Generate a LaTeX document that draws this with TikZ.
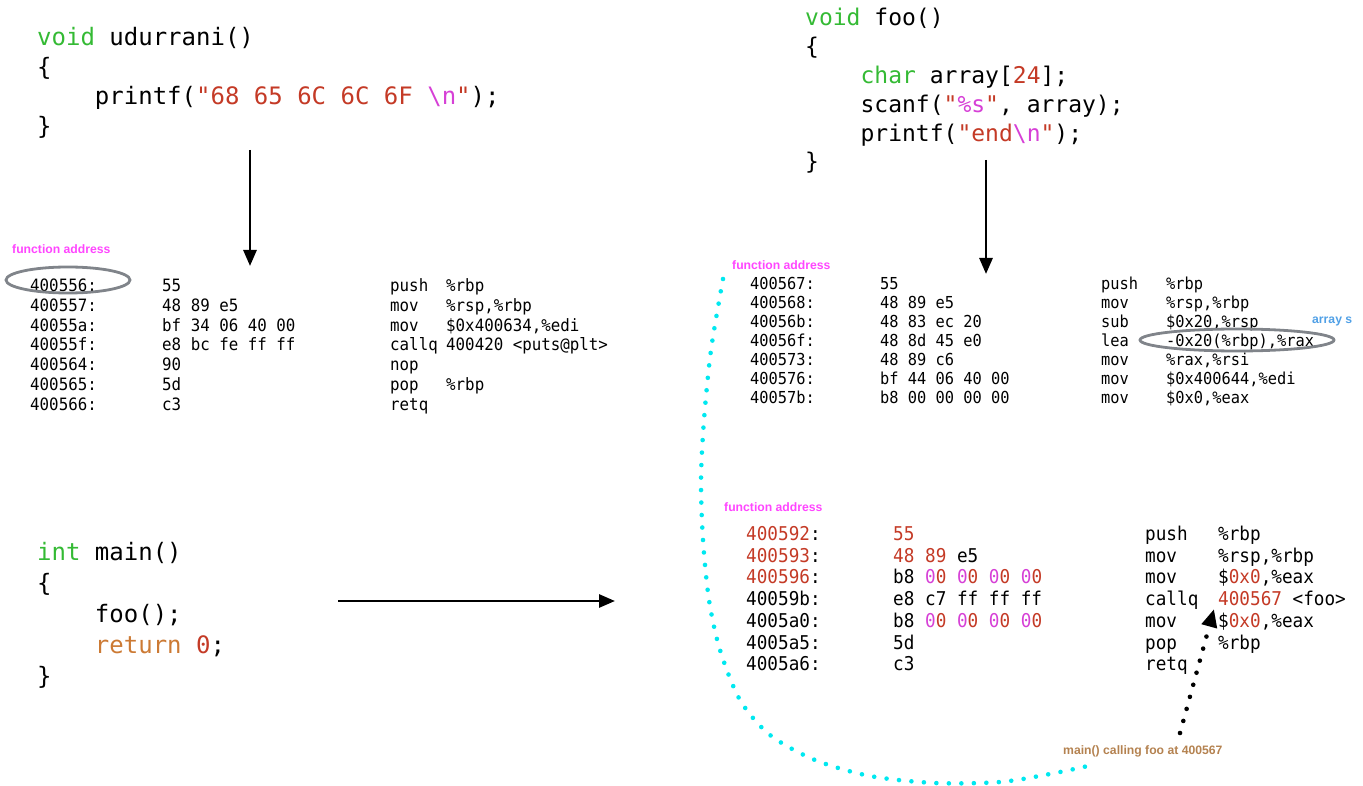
\documentclass[tikz,border=0pt]{standalone}
\usepackage{fontspec}
\usepackage{xcolor}
\usepackage{tikz}
\usetikzlibrary{arrows.meta}

\newfontfamily\codefont{DejaVu Sans Mono}
\newfontfamily\asmfont{DejaVu Sans Mono}[FakeStretch=0.93]
\newfontfamily\notefont{Liberation Sans}

\definecolor{kwgreen}{RGB}{52,186,52}
\definecolor{strred}{RGB}{196,58,38}
\definecolor{escmag}{RGB}{214,64,214}
\definecolor{retbrown}{RGB}{204,122,52}
\definecolor{notemag}{RGB}{255,70,255}
\definecolor{noteblue}{RGB}{80,160,230}
\definecolor{notebrown}{RGB}{180,130,80}
\definecolor{dotcyan}{RGB}{0,232,240}
\definecolor{ringgray}{RGB}{128,132,138}

% syntax colours
\newcommand{\ckw}[1]{\textcolor{kwgreen}{#1}}
\newcommand{\cstr}[1]{\textcolor{strred}{#1}}
\newcommand{\cesc}[1]{\textcolor{escmag}{#1}}
\newcommand{\cret}[1]{\textcolor{retbrown}{#1}}
\newcommand{\zz}{\textcolor{escmag}{0}\textcolor{strred}{0}}
\newcommand{\tabi}{\phantom{xxxx}}

\begin{document}
\begin{tikzpicture}[x=1pt,y=-1pt,
	code/.style={inner sep=0pt, anchor=base west},
	asm/.style={inner sep=0pt, anchor=base west},
	note/.style={inner sep=0pt, anchor=base west, font=\notefont\bfseries\fontsize{12.2}{14}\selectfont},
	flow/.style={line width=2.8pt, -{Triangle[width=13pt,length=16pt]}},
	ring/.style={draw=ringgray, line width=2.8pt},
	cyandots/.style={dotcyan, line width=4.6pt, line cap=round, dash pattern=on 0pt off 12.5pt},
	calldots/.style={black, line width=4.6pt, line cap=round, dash pattern=on 0pt off 12.5pt,
		-{Triangle[width=15pt,length=18pt]}}]
	\useasboundingbox (0,0) rectangle (1363,786);

	%% C sources
	\node[code, font=\codefont\fontsize{24}{29.5}\selectfont] (udsrc) at (37,46)
		{\begin{tabular}[t]{@{}l@{}}
			\ckw{void} udurrani()\\
			\{\\
			\tabi printf(\cstr{"68 65 6C 6C 6F }\cesc{\textbackslash n}\cstr{"});\\
			\}
		\end{tabular}};
	\node[code, font=\codefont\fontsize{23}{28.8}\selectfont] (foosrc) at (805,26)
		{\begin{tabular}[t]{@{}l@{}}
			\ckw{void} foo()\\
			\{\\
			\tabi\ckw{char} array[\cstr{24}];\\
			\tabi scanf(\cstr{"}\cesc{\%s}\cstr{"}, array);\\
			\tabi printf(\cstr{"end}\cesc{\textbackslash n}\cstr{"});\\
			\}
		\end{tabular}};
	\node[code, font=\codefont\fontsize{24}{31}\selectfont] (mainsrc) at (37,560)
		{\begin{tabular}[t]{@{}l@{}}
			\ckw{int} main()\\
			\{\\
			\tabi foo();\\
			\tabi\cret{return} \cstr{0};\\
			\}
		\end{tabular}};

	%% disassembly of udurrani()
	\foreach \ad/\by/\mn/\op [count=\i from 0] in {400556:/55/push/\%rbp,
		400557:/48 89 e5/mov/{\%rsp,\%rbp}, 40055a:/bf 34 06 40 00/mov/{\$0x400634,\%edi},
		40055f:/e8 bc fe ff ff/callq/400420 <puts@plt>, 400564:/90/nop/{},
		400565:/5d/pop/\%rbp, 400566:/c3/retq/{}}{
		\node[asm, font=\asmfont\fontsize{17}{20}\selectfont] (ua\i) at (30, 291.5+19.8*\i) {\ad};
		\node[asm, font=\asmfont\fontsize{17}{20}\selectfont] (ub\i) at (162, 291.5+19.8*\i) {\by};
		\node[asm, font=\asmfont\fontsize{17}{20}\selectfont] (um\i) at (390, 291.5+19.8*\i) {\mn};
		\node[asm, font=\asmfont\fontsize{17}{20}\selectfont] (uo\i) at (446, 291.5+19.8*\i) {\op};
	}

	%% disassembly of foo()
	\foreach \ad/\by/\mn/\op [count=\i from 0] in {400567:/55/push/\%rbp,
		400568:/48 89 e5/mov/{\%rsp,\%rbp}, 40056b:/48 83 ec 20/sub/{\$0x20,\%rsp},
		40056f:/48 8d 45 e0/lea/{-0x20(\%rbp),\%rax}, 400573:/48 89 c6/mov/{\%rax,\%rsi},
		400576:/bf 44 06 40 00/mov/{\$0x400644,\%edi}, 40057b:/b8 00 00 00 00/mov/{\$0x0,\%eax}}{
		\node[asm, font=\asmfont\fontsize{16.5}{20}\selectfont] (fa\i) at (750, 289.5+19*\i) {\ad};
		\node[asm, font=\asmfont\fontsize{16.5}{20}\selectfont] (fb\i) at (880, 289.5+19*\i) {\by};
		\node[asm, font=\asmfont\fontsize{16.5}{20}\selectfont] (fm\i) at (1101, 289.5+19*\i) {\mn};
		\node[asm, font=\asmfont\fontsize{16.5}{20}\selectfont] (fo\i) at (1166, 289.5+19*\i) {\op};
	}

	%% disassembly of main()
	\foreach \ad/\by/\mn/\op [count=\i from 0] in {{\cstr{400592}:}/\cstr{55}/push/\%rbp,
		{\cstr{400593}:}/{\cstr{48 89} e5}/mov/{\%rsp,\%rbp},
		{\cstr{400596}:}/{b8 \zz\ \zz\ \zz\ \zz}/mov/{\$\cstr{0x0},\%eax},
		40059b:/e8 c7 ff ff ff/callq/{\cstr{400567} <foo>},
		4005a0:/{b8 \zz\ \zz\ \zz\ \zz}/mov/{\$\cstr{0x0},\%eax},
		4005a5:/5d/pop/\%rbp, 4005a6:/c3/retq/{}}{
		\node[asm, font=\asmfont\fontsize{19}{22}\selectfont] (ma\i) at (746, 540.5+21.7*\i) {\ad};
		\node[asm, font=\asmfont\fontsize{19}{22}\selectfont] (mb\i) at (893, 540.5+21.7*\i) {\by};
		\node[asm, font=\asmfont\fontsize{19}{22}\selectfont] (mm\i) at (1145, 540.5+21.7*\i) {\mn};
		\node[asm, font=\asmfont\fontsize{19}{22}\selectfont] (mo\i) at (1218, 540.5+21.7*\i) {\op};
	}

	%% notes
	\node[note, notemag] (fnote1) at (12,253.5) {function address};
	\node[note, notemag] (fnote2) at (732,269.5) {function address};
	\node[note, notemag] (fnote3) at (724,511.5) {function address};
	\node[note, noteblue] (arrnote) at (1312,323.5) {array s};
	\node[note, notebrown] (callnote) at (1063,754.5) {main() calling foo at 400567};

	%% rings
	\draw[ring] (68,280) ellipse [x radius=62, y radius=13];
	\draw[ring] (1237,340) ellipse [x radius=97, y radius=11];

	%% flow arrows
	\coordinate (ud1) at (250,150);
	\coordinate (ud2) at (250,266);
	\coordinate (foo1) at (986,160);
	\coordinate (foo2) at (986,274);
	\coordinate (mn1) at (338,601);
	\coordinate (mn2) at (615,601);
	\draw[flow] (ud1)--(ud2);
	\draw[flow] (foo1)--(foo2);
	\draw[flow] (mn1)--(mn2);

	%% dotted links
	\coordinate (cyA) at (723,279);
	\coordinate (cyB) at (1088,766);
	\draw[cyandots] plot[smooth] coordinates {(cyA) (711,350) (704,420) (701,480) (703,540)
		(709,600) (720,650) (740,700) (770,735) (815,760) (870,776) (935,783) (1000,782) (1050,774) (cyB)};
	\coordinate (cdA) at (1180,733);
	\coordinate (cdB) at (1214,609);
	\draw[calldots] (cdA)--(cdB);
\end{tikzpicture}
\end{document}
